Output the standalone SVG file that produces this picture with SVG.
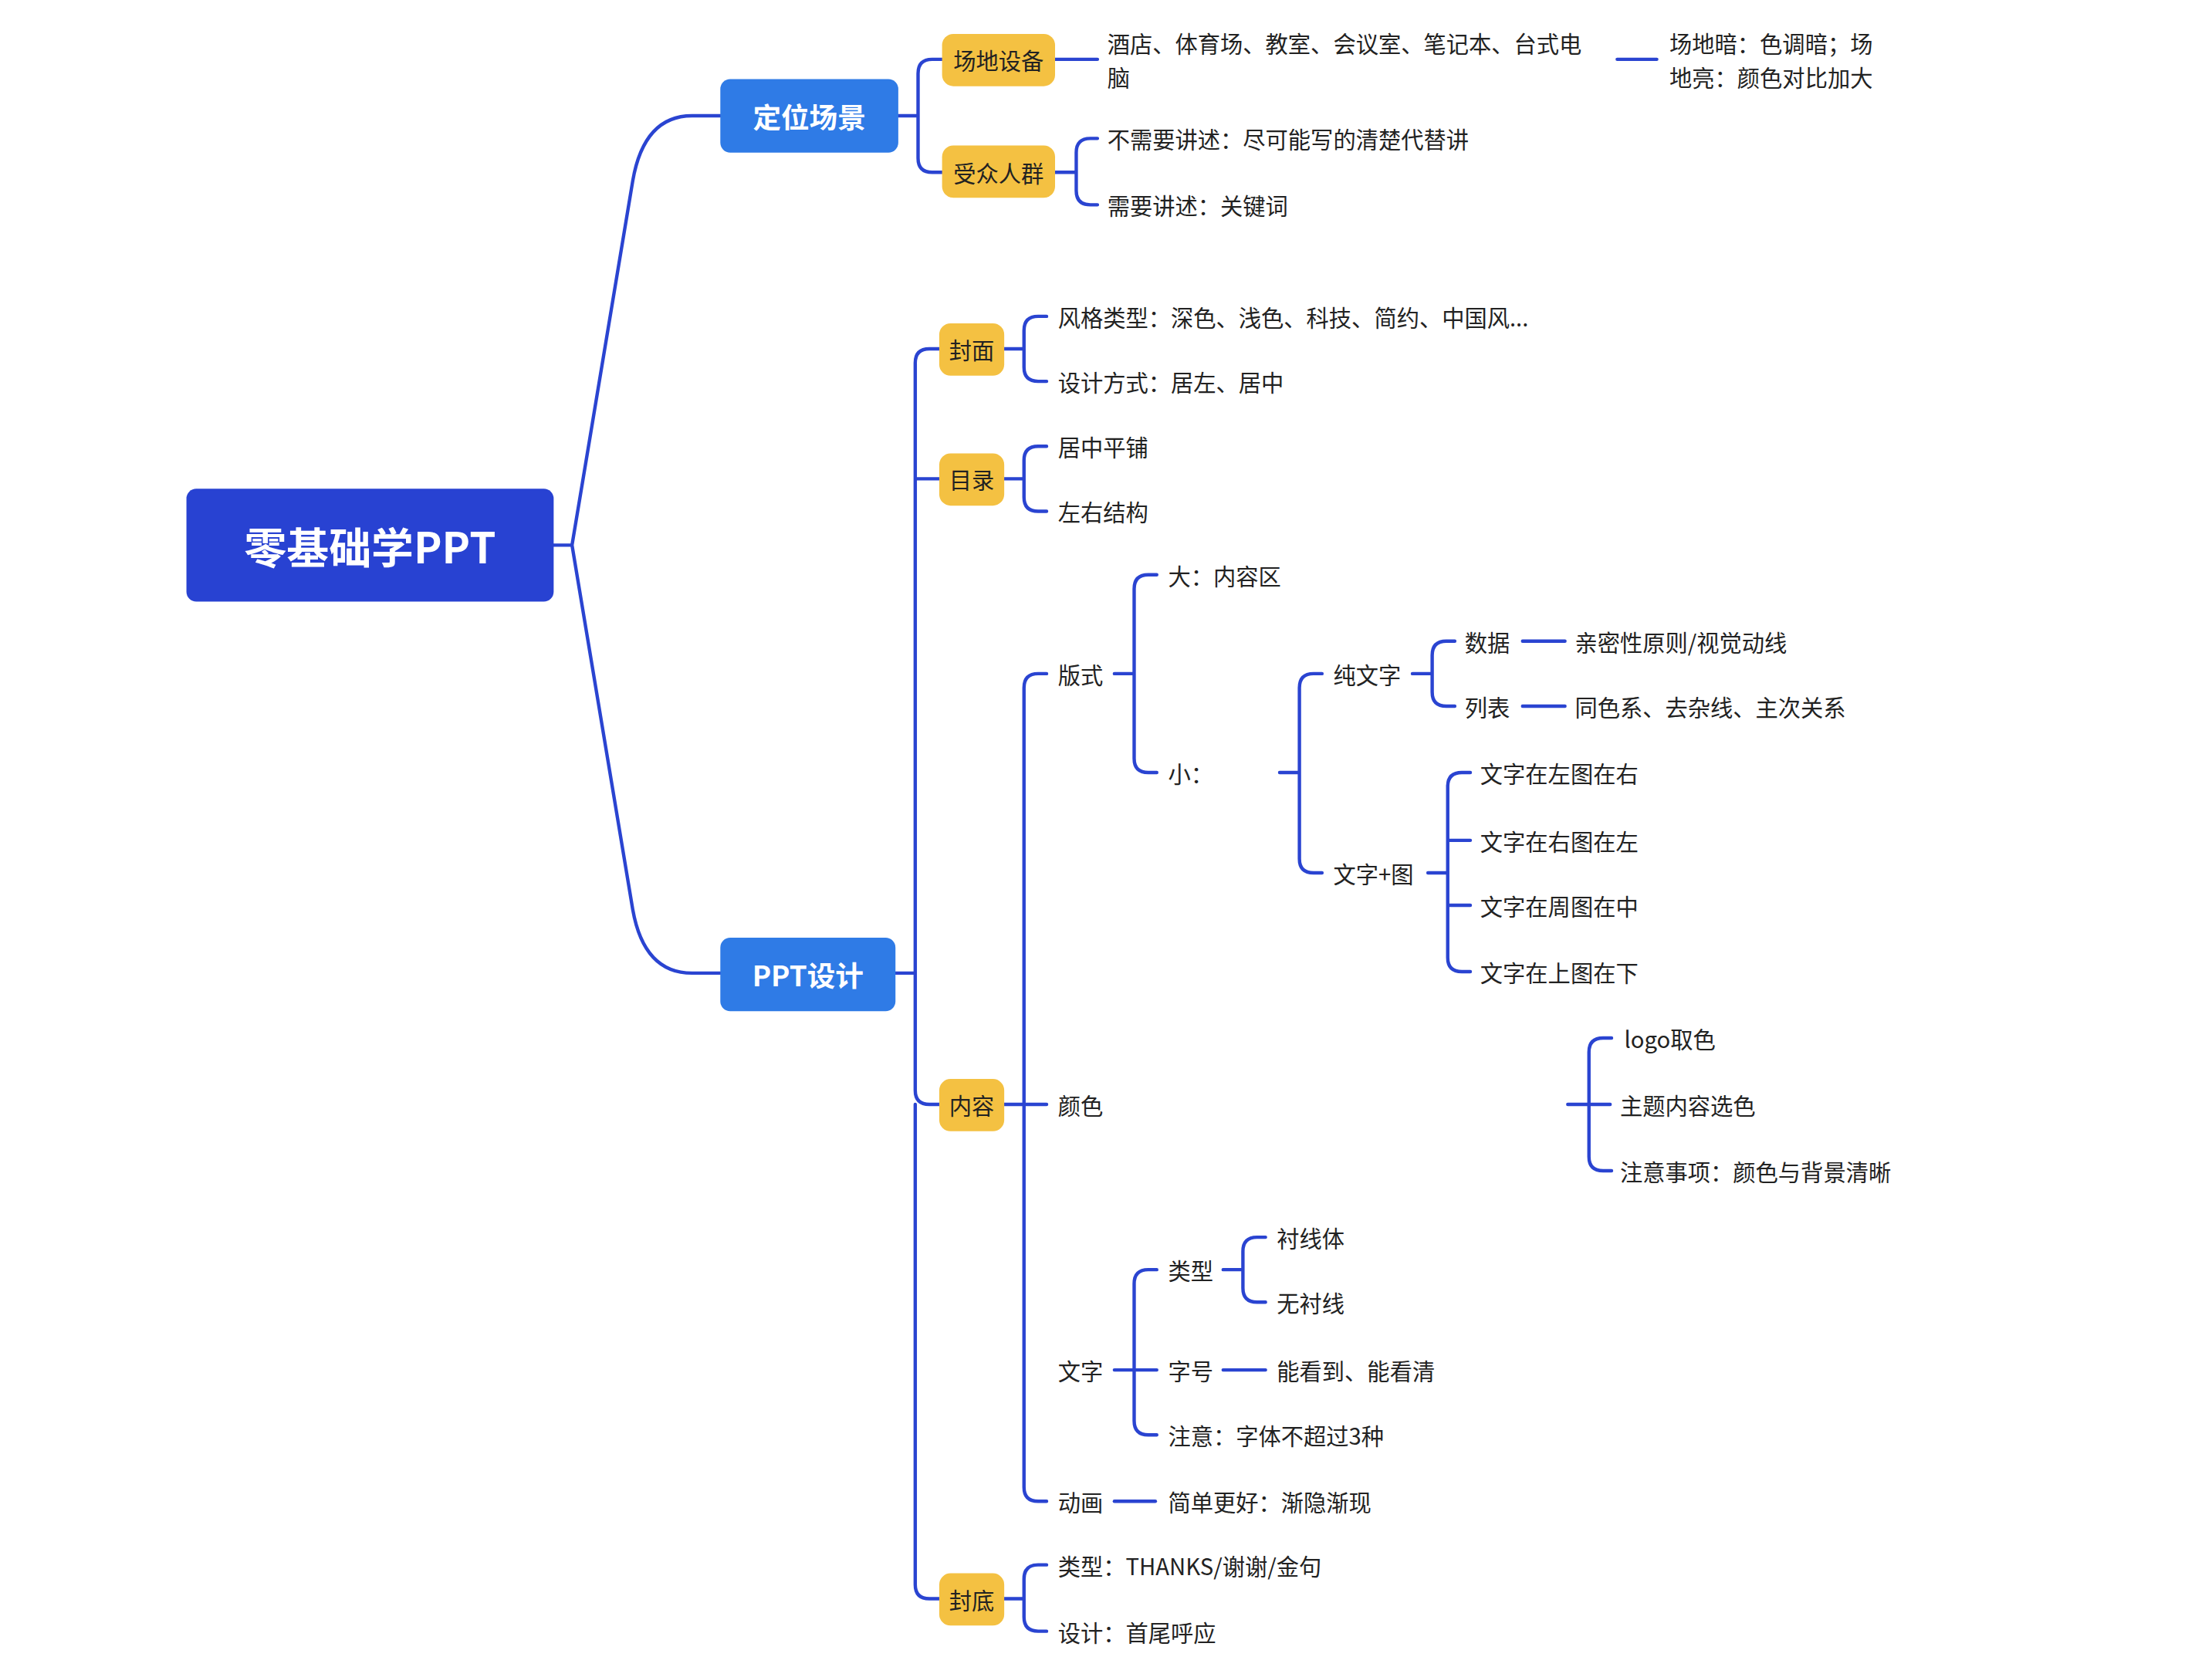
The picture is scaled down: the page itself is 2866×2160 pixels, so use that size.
<svg xmlns="http://www.w3.org/2000/svg" width="2866" height="2160" viewBox="0 0 2866 2160">
<style>
.c{fill:none;stroke:#2a44d1;stroke-width:2.4;stroke-linecap:round}
text{font-family:"Noto Sans CJK SC","Noto Sans",sans-serif;font-size:16px;fill:#222;dominant-baseline:central}
.w{fill:#fff;font-weight:bold;text-anchor:middle}
.y{fill:#f4c142}
.yt{text-anchor:middle;fill:#222}
</style>
<rect width="2866" height="2160" fill="#fff"/>
<g transform="scale(1.83)">
<g id="connectors">
<path class="c" d="M392,386H405L448,128Q456,82 490,82H510M405,386L448,644Q456,689 490,689H510"/>
<path class="c" d="M636,82H650M650,82V52Q650,42 660,42H667M650,82V112Q650,122 660,122H667"/>
<path class="c" d="M747,42H777M1145,42H1173"/>
<path class="c" d="M747,122H762M762,122V108Q762,98 772,98H777M762,122V135Q762,145 772,145H777"/>
<path class="c" d="M634,689H648M648,689V257Q648,247 658,247H665M648,339H665M648,689V772Q648,782 658,782H665M648,782V1122Q648,1132 658,1132H665"/>
<path class="c" d="M711,247H725M725,247V234Q725,224 735,224H741M725,247V260Q725,270 735,270H741"/>
<path class="c" d="M711,339H725M725,339V326Q725,316 735,316H741M725,339V352Q725,362 735,362H741"/>
<path class="c" d="M711,782H741M725,782V487Q725,477 735,477H741M725,782V1053Q725,1063 735,1063H741"/>
<path class="c" d="M789,477H803M803,477V417Q803,407 813,407H819M803,477V537Q803,547 813,547H819"/>
<path class="c" d="M906,547H920M920,547V487Q920,477 930,477H936M920,547V608Q920,618 930,618H936"/>
<path class="c" d="M1000,477H1014M1014,477V464Q1014,454 1024,454H1030M1014,477V490Q1014,500 1024,500H1030M1078,454H1108M1078,500H1108"/>
<path class="c" d="M1011,618H1025M1025,618V557Q1025,547 1035,547H1041M1025,595H1041M1025,641H1041M1025,618V678Q1025,688 1035,688H1041"/>
<path class="c" d="M1110,782H1140M1125,782V745Q1125,735 1135,735H1141M1125,782V819Q1125,829 1135,829H1141"/>
<path class="c" d="M789,970H819M803,970V909Q803,899 813,899H819M803,970V1006Q803,1016 813,1016H819"/>
<path class="c" d="M866,899H880M880,899V886Q880,876 890,876H896M880,899V912Q880,922 890,922H896M866,970H896"/>
<path class="c" d="M789,1063H818"/>
<path class="c" d="M711,1132H725M725,1132V1118Q725,1108 735,1108H741M725,1132V1145Q725,1155 735,1155H741"/>
</g>
<g id="root"><rect x="132" y="346" width="260" height="80" rx="7" fill="#2842d2"/><text class="w" x="262" y="386" style="font-size:30px">零基础学PPT</text></g>
<g id="n-dingwei"><rect x="510" y="56" width="126" height="52" rx="7" fill="#2f7be6"/><text class="w" x="573" y="82" style="font-size:20px">定位场景</text></g>
<g id="n-pptsheji"><rect x="510" y="664" width="124" height="52" rx="7" fill="#2f7be6"/><text class="w" x="572" y="690" style="font-size:20px">PPT设计</text></g>
<g id="n-changdi"><rect class="y" x="667" y="24" width="80" height="37" rx="8"/><text class="yt" x="707" y="42">场地设备</text></g>
<g id="n-shouzhong"><rect class="y" x="667" y="103" width="80" height="37" rx="8"/><text class="yt" x="707" y="122">受众人群</text></g>
<g id="n-fengmian"><rect class="y" x="665" y="229" width="46" height="37" rx="8"/><text class="yt" x="688" y="247">封面</text></g>
<g id="n-mulu"><rect class="y" x="665" y="321" width="46" height="37" rx="8"/><text class="yt" x="688" y="339">目录</text></g>
<g id="n-neirong"><rect class="y" x="665" y="764" width="46" height="37" rx="8"/><text class="yt" x="688" y="782">内容</text></g>
<g id="n-fengdi"><rect class="y" x="665" y="1114" width="46" height="37" rx="8"/><text class="yt" x="688" y="1132">封底</text></g>
<g id="leaves">
<g id="t1"><text x="784" y="30">酒店、体育场、教室、会议室、笔记本、台式电</text><text x="784" y="54">脑</text></g>
<g id="t2"><text x="1182" y="30">场地暗：色调暗；场</text><text x="1182" y="54">地亮：颜色对比加大</text></g>
<text id="t3" x="784" y="98">不需要讲述：尽可能写的清楚代替讲</text>
<text id="t4" x="784" y="145">需要讲述：关键词</text>
<text id="t5" x="749" y="224">风格类型：深色、浅色、科技、简约、中国风...</text>
<text id="t6" x="749" y="270">设计方式：居左、居中</text>
<text id="t7" x="749" y="316">居中平铺</text>
<text id="t8" x="749" y="362">左右结构</text>
<text id="t9" x="749" y="477">版式</text>
<text id="t10" x="827" y="407">大：内容区</text>
<text id="t11" x="827" y="547">小：</text>
<text id="t12" x="944" y="477">纯文字</text>
<text id="t13" x="1037" y="454">数据</text>
<text id="t14" x="1037" y="500">列表</text>
<text id="t15" x="1115" y="454">亲密性原则/视觉动线</text>
<text id="t16" x="1115" y="500">同色系、去杂线、主次关系</text>
<text id="t17" x="944" y="618">文字+图</text>
<text id="t18" x="1048" y="547">文字在左图在右</text>
<text id="t19" x="1048" y="595">文字在右图在左</text>
<text id="t20" x="1048" y="641">文字在周图在中</text>
<text id="t21" x="1048" y="688">文字在上图在下</text>
<text id="t22" x="749" y="782">颜色</text>
<text id="t23" x="1150" y="735">logo取色</text>
<text id="t24" x="1147" y="782">主题内容选色</text>
<text id="t25" x="1147" y="829">注意事项：颜色与背景清晰</text>
<text id="t26" x="749" y="970">文字</text>
<text id="t27" x="827" y="899">类型</text>
<text id="t28" x="904" y="876">衬线体</text>
<text id="t29" x="904" y="922">无衬线</text>
<text id="t30" x="827" y="970">字号</text>
<text id="t31" x="904" y="970">能看到、能看清</text>
<text id="t32" x="827" y="1016">注意：字体不超过3种</text>
<text id="t33" x="749" y="1063">动画</text>
<text id="t34" x="827" y="1063">简单更好：渐隐渐现</text>
<text id="t35" x="749" y="1108">类型：THANKS/谢谢/金句</text>
<text id="t36" x="749" y="1155">设计：首尾呼应</text>
</g>
</g>
</svg>
